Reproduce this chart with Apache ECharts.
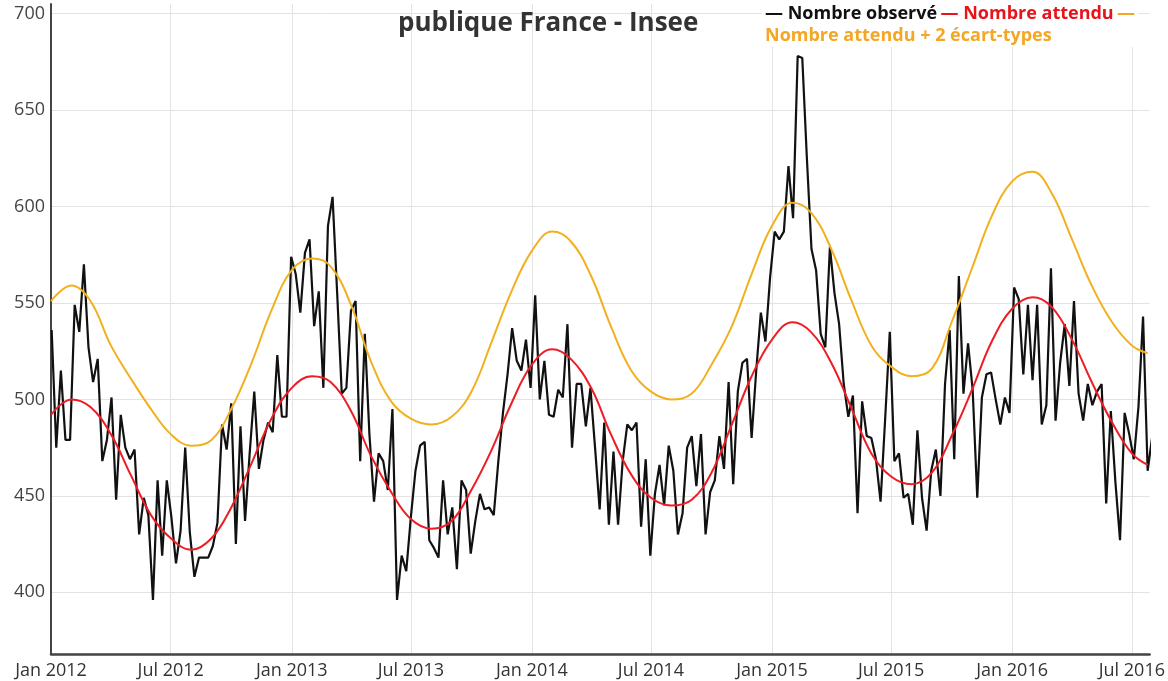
<!DOCTYPE html>
<html>
<head>
<meta charset="utf-8">
<script src="https://cdn.jsdelivr.net/npm/echarts@6/dist/echarts.min.js"></script>
<style>
html,body{margin:0;padding:0;background:#fff}
#chart{width:1168px;height:681px}
</style>
</head>
<body>
<div id="chart"></div>
<script>
// weekly observed counts, first week starting Mon 2 Jan 2012
var observed = [
  536,475,515,479,479,549,535,570,527,509,521,468,479,501,448,492,475,469,474,430,
  449,440,396,458,419,458,439,415,432,475,431,408,418,418,418,424,436,487,474,498,
  425,486,437,472,504,464,479,488,483,523,491,491,574,565,545,576,583,538,556,506,
  590,605,555,503,506,546,551,468,534,482,447,472,468,453,495,396,419,411,439,463,
  476,478,427,423,418,458,430,444,412,458,453,420,437,451,443,444,440,468,493,513,
  537,520,515,531,506,554,500,520,492,491,505,501,539,475,508,508,486,506,475,443,
  488,435,473,435,468,487,484,488,434,469,419,451,466,445,476,463,430,441,475,481,
  455,482,430,452,458,481,464,509,456,504,519,521,480,515,545,530,563,587,583,587,
  621,594,678,677,625,578,567,534,527,579,555,539,508,491,502,441,499,481,480,469,
  447,490,535,468,472,449,451,435,484,449,432,463,474,450,508,536,469,564,503,529,
  505,449,501,513,514,500,487,501,493,558,552,513,549,510,549,487,497,568,489,519,
  539,507,551,503,489,508,497,504,508,446,494,457,427,493,482,469,496,543,463,481
];

// expected curve, read on the 1st of each month from Jan 2012, plus last week
var expected = [
  492,500,496,482,461,440,428,422,428,444,467,490,
  506,512,509,494,471,452,438,433,437,453,474,498,
  518,526,521,506,482,461,449,445,448,462,487,512,
  531,540,535,519,496,472,460,456,462,481,505,530,
  547,553,548,531,509,488,472
];
var expectedLast = 466;

// expected + 2 sd, same dates
var upper = [
  551,559,551,528,511,495,482,476,479,495,519,546,
  567,573,569,549,520,499,490,487,491,504,530,556,
  577,587,582,564,538,515,504,500,503,518,538,565,
  590,602,597,578,552,528,517,512,516,540,568,595,
  613,618,607,583,559,540,528
];
var upperLast = 524;

var seriesNames = ['Nombre observé', 'Nombre attendu', 'Nombre attendu + 2 écart-types'];
var titleText = 'publique France - Insee';
var yTicks = [400, 450, 500, 550, 600, 650, 700];
var xTickLabels = ['Jan 2012','Jul 2012','Jan 2013','Jul 2013','Jan 2014','Jul 2014',
                   'Jan 2015','Jul 2015','Jan 2016','Jul 2016'];

var monthNum = {Jan: 0, Jul: 6};
var xTicks = xTickLabels.map(function(s){
  var p = s.split(' ');
  return new Date(+p[1], monthNum[p[0]], 1).getTime();
});
var lastDate = new Date(2016, 6, 25).getTime();

var obsData = observed.map(function(v, i){
  return [new Date(2012, 0, 2 + 7 * i).getTime(), v];
});
function monthly(arr, last){
  var out = arr.map(function(v, i){ return [new Date(2012, i, 1).getTime(), v]; });
  out.push([lastDate, last]);
  return out;
}

var chart = echarts.init(document.getElementById('chart'));
chart.setOption({
  animation: false,
  textStyle: {fontFamily: 'Open Sans'},
  title: {
    text: titleText,
    left: 393, top: 6,
    textStyle: {fontSize: 26, fontWeight: 'bold', color: '#333', fontFamily: 'Open Sans'}
  },
  graphic: [{
    type: 'text', left: 762, top: 3, z: 100,
    style: {
      text: '{k|— ' + seriesNames[0] + '} {r|— ' + seriesNames[1] + '} {o|—}\n{o|' + seriesNames[2] + '}',
      backgroundColor: '#fff',
      padding: [0, 3],
      rich: {
        k: {fill: '#111', font: 'bold 18px "Open Sans"', lineHeight: 22},
        r: {fill: '#e8141c', font: 'bold 18px "Open Sans"', lineHeight: 22},
        o: {fill: '#f5a623', font: 'bold 18px "Open Sans"', lineHeight: 22}
      }
    }
  }],
  grid: {left: 51, right: 15, top: 4, bottom: 27},
  // dates as plain timestamps on a value axis so the Jan/Jul ticks can be fixed
  xAxis: {
    type: 'value',
    min: new Date(2012, 0, 1).getTime(),
    max: new Date(2016, 6, 28).getTime(),
    axisLine: {lineStyle: {color: '#444', width: 2.5}},
    axisTick: {show: false, customValues: xTicks},
    axisLabel: {
      customValues: xTicks,
      fontSize: 18, color: '#333', margin: 8,
      formatter: function(v){ return xTickLabels[xTicks.indexOf(v)] || ''; }
    },
    splitLine: {show: true, lineStyle: {color: '#e3e3e3', width: 1}}
  },
  yAxis: {
    type: 'value',
    min: 368, max: 705,
    axisLine: {show: true, lineStyle: {color: '#444', width: 2}},
    axisTick: {show: false, customValues: yTicks},
    axisLabel: {customValues: yTicks, fontSize: 18, color: '#444', margin: 6},
    splitLine: {show: true, lineStyle: {color: '#e3e3e3', width: 1}}
  },
  series: [
    {
      name: seriesNames[0], type: 'line', data: obsData,
      showSymbol: false, symbol: 'none',
      lineStyle: {color: '#111', width: 2.2}
    },
    {
      name: seriesNames[1], type: 'line', data: monthly(expected, expectedLast),
      smooth: 0.4, showSymbol: false, symbol: 'none',
      lineStyle: {color: '#ee1c25', width: 2}
    },
    {
      name: seriesNames[2], type: 'line', data: monthly(upper, upperLast),
      smooth: 0.4, showSymbol: false, symbol: 'none',
      lineStyle: {color: '#f2b01e', width: 2}
    }
  ]
});
</script>
</body>
</html>
